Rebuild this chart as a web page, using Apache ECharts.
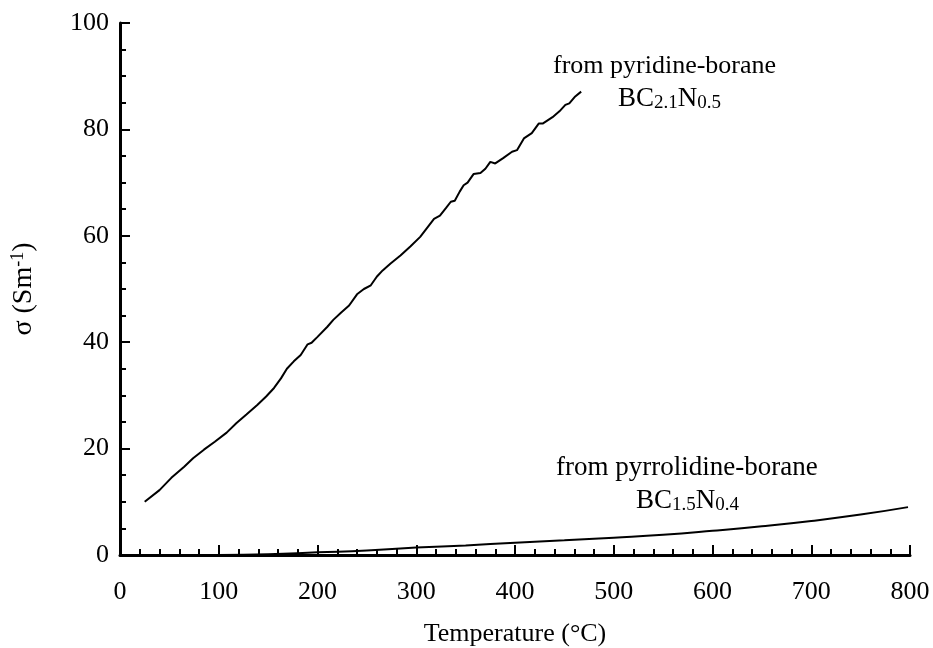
<!DOCTYPE html>
<html>
<head>
<meta charset="utf-8">
<script src="https://cdn.jsdelivr.net/npm/echarts@6/dist/echarts.min.js"></script>
<style>html,body{margin:0;padding:0;background:#fff;}#chart{width:933px;height:648px;}</style>
</head>
<body>
<div id="chart"></div>
<script>
// Temperature (°C), conductivity σ (S m-1)
var pyridineBorane = [
  [25,10.0],[40,12.2],[52,14.5],[65,16.6],[74,18.2],[85,19.8],[96,21.3],[108,23.0],[118,24.8],
  [128,26.4],[139,28.2],[148,29.8],[156,31.4],[163,33.2],[169,35.0],[176,36.4],[183,37.6],
  [190,39.6],[194,39.9],[200,41.0],[210,42.9],[216,44.2],[224,45.6],[232,46.9],[240,49.0],
  [247,50.0],[254,50.7],[260,52.3],[266,53.5],[274,54.8],[284,56.3],[294,58.0],[304,59.8],
  [311,61.5],[318,63.2],[324,63.8],[330,65.2],[335,66.4],[339,66.6],[344,68.3],[348,69.5],
  [352,70.0],[358,71.6],[365,71.8],[370,72.6],[375,73.9],[380,73.6],[388,74.6],[397,75.8],
  [402,76.1],[409,78.3],[417,79.3],[424,81.1],[428,81.1],[438,82.3],[445,83.4],[451,84.6],
  [455,84.9],[461,86.2],[467,87.1]
];
var pyrrolidineBorane = [
  [100,0],[150,0.15],[200,0.5],[250,0.85],[300,1.4],[350,1.8],[400,2.3],[450,2.75],
  [500,3.25],[550,3.8],[600,4.55],[650,5.4],[700,6.4],[750,7.6],[798,9.0]
];
var xTicks = [0,100,200,300,400,500,600,700,800];
var yTicks = [0,20,40,60,80,100];

var FONT = 'Liberation Serif';
var chart = echarts.init(document.getElementById('chart'));
var axisCommon = {
  axisLine: {show: true, onZero: false, lineStyle: {color: '#000', width: 3}},
  axisTick: {show: true, inside: true, length: 10, lineStyle: {color: '#000', width: 2}},
  minorTick: {show: true, length: 6, lineStyle: {color: '#000', width: 2}},
  splitLine: {show: false},
  axisLabel: {color: '#000', fontFamily: FONT, fontSize: 26}
};
var subRich = function (main, sub, pad) {
  return {
    a: {fontFamily: FONT, fontSize: main, fill: '#000', color: '#000'},
    s: {fontFamily: FONT, fontSize: sub, fill: '#000', color: '#000', padding: pad}
  };
};
chart.setOption({
  animation: false,
  backgroundColor: '#fff',
  grid: {left: 120, right: 23, top: 23, bottom: 93, containLabel: false, outerBoundsMode: 'none'},
  xAxis: Object.assign({}, axisCommon, {
    type: 'value', min: xTicks[0], max: xTicks[xTicks.length-1], interval: 100,
    minorTick: Object.assign({}, axisCommon.minorTick, {splitNumber: 5}),
    axisLabel: Object.assign({}, axisCommon.axisLabel, {margin: 24}),
    name: 'Temperature (°C)', nameLocation: 'middle', nameGap: 66,
    nameTextStyle: {color: '#000', fontFamily: FONT, fontSize: 26}
  }),
  yAxis: Object.assign({}, axisCommon, {
    type: 'value', min: yTicks[0], max: yTicks[yTicks.length-1], interval: 20,
    minorTick: Object.assign({}, axisCommon.minorTick, {splitNumber: 4}),
    axisLabel: Object.assign({}, axisCommon.axisLabel, {margin: 11}),
    name: '{a|σ (Sm}{s|-1}{a|)}', nameLocation: 'middle', nameGap: 82, nameRotate: 90,
    nameTextStyle: {color: '#000', fontFamily: FONT, fontSize: 28,
      rich: subRich(28, 18, [0,0,11,0])}
  }),
  series: [
    {type: 'line', data: pyridineBorane, showSymbol: false, symbol: 'none',
     lineStyle: {color: '#000', width: 2}},
    {type: 'line', data: pyrrolidineBorane, showSymbol: false, symbol: 'none', smooth: true,
     lineStyle: {color: '#000', width: 2}}
  ],
  graphic: [
    {type: 'text', left: 553, top: 53, style: {
      text: 'from pyridine-borane', fontFamily: FONT, fontSize: 26, fill: '#000'}},
    {type: 'text', left: 618, top: 85, style: {
      text: '{a|BC}{s|2.1}{a|N}{s|0.5}', rich: subRich(27, 19, [10,0,0,0])}},
    {type: 'text', left: 556, top: 454, style: {
      text: 'from pyrrolidine-borane', fontFamily: FONT, fontSize: 27, fill: '#000'}},
    {type: 'text', left: 636, top: 487, style: {
      text: '{a|BC}{s|1.5}{a|N}{s|0.4}', rich: subRich(27, 19, [10,0,0,0])}}
  ]
});
</script>
</body>
</html>
